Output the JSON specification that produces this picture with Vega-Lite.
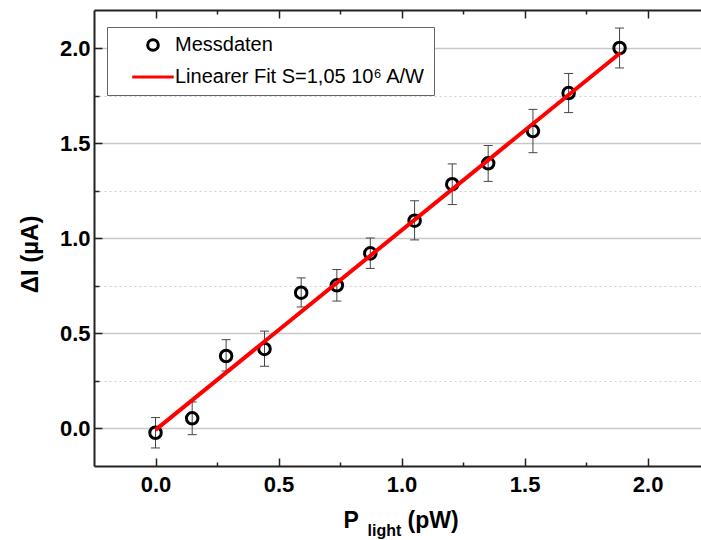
{
  "$schema": "https://vega.github.io/schema/vega-lite/v6.json",
  "width": 607,
  "height": 456,
  "autosize": "none",
  "padding": {"left": 94, "top": 10, "right": 0, "bottom": 74},
  "background": "white",
  "config": {
    "view": {"stroke": null},
    "axis": {
      "labelFont": "Liberation Sans",
      "labelFontWeight": "bold",
      "labelFontSize": 22,
      "labelColor": "#000000",
      "titleFont": "Liberation Sans",
      "titleFontWeight": "bold",
      "titleColor": "#000000",
      "tickColor": "#222222",
      "tickWidth": 1.5,
      "domainColor": "#222222",
      "domainWidth": 2
    },
    "legend": {
      "orient": "none", "legendX": 13, "legendY": 17,
      "title": null,
      "strokeColor": "#666666", "fillColor": "white", "padding": 8,
      "labelFont": "Liberation Sans", "labelFontSize": 20, "labelColor": "#000000",
      "labelLimit": 400,
      "symbolSize": 113, "symbolStrokeWidth": 3, "rowPadding": 10,
      "labelOffset": 12, "symbolOffset": 28
    }
  },
  "datasets": {
    "meas": [
      {"P": 0.0, "dI": -0.025, "lo": -0.105, "hi": 0.055},
      {"P": 0.149, "dI": 0.051, "lo": -0.035, "hi": 0.137},
      {"P": 0.287, "dI": 0.379, "lo": 0.3, "hi": 0.465},
      {"P": 0.443, "dI": 0.416, "lo": 0.325, "hi": 0.51},
      {"P": 0.592, "dI": 0.712, "lo": 0.637, "hi": 0.79},
      {"P": 0.737, "dI": 0.751, "lo": 0.668, "hi": 0.834},
      {"P": 0.873, "dI": 0.919, "lo": 0.84, "hi": 1.0},
      {"P": 1.053, "dI": 1.091, "lo": 0.99, "hi": 1.196},
      {"P": 1.206, "dI": 1.283, "lo": 1.176, "hi": 1.39},
      {"P": 1.352, "dI": 1.393, "lo": 1.298, "hi": 1.487},
      {"P": 1.534, "dI": 1.563, "lo": 1.449, "hi": 1.677},
      {"P": 1.679, "dI": 1.763, "lo": 1.66, "hi": 1.866},
      {"P": 1.886, "dI": 2.0, "lo": 1.895, "hi": 2.105}
    ],
    "fit": [
      {"P": 0.0, "dI": -0.01},
      {"P": 1.89, "dI": 1.975}
    ]
  },
  "resolve": {"axis": {"x": "independent", "y": "independent"}},
  "layer": [
    {
      "data": {"name": "meas"},
      "mark": {"type": "rule", "color": "#444444", "strokeWidth": 1},
      "encoding": {
        "x": {
          "field": "P", "type": "quantitative",
          "scale": {"domain": [-0.25, 2.217], "nice": false, "zero": false},
          "axis": {
            "orient": "bottom", "values": [0, 0.5, 1, 1.5, 2], "format": ".1f",
            "tickSize": -8, "labelPadding": 16, "grid": false,
            "title": "P", "titleX": 249, "titleY": 61, "titleAlign": "left",
            "titleBaseline": "alphabetic", "titleFontSize": 23
          }
        },
        "y": {
          "field": "lo", "type": "quantitative",
          "scale": {"domain": [-0.2, 2.2], "nice": false, "zero": false},
          "axis": {
            "orient": "left", "values": [0, 0.5, 1, 1.5, 2], "format": ".1f",
            "tickSize": -8, "labelPadding": 12, "grid": true,
            "gridColor": "#c8c8c8", "gridWidth": 1.5,
            "title": "ΔI (µA)", "titleX": -64, "titleY": 244, "titleAngle": -90,
            "titleAlign": "center", "titleBaseline": "middle", "titleFontSize": 24
          }
        },
        "y2": {"field": "hi"}
      }
    },
    {
      "data": {"name": "meas"},
      "mark": {"type": "tick", "orient": "horizontal", "color": "#444444", "size": 9, "thickness": 1, "opacity": 1},
      "encoding": {
        "x": {
          "field": "P", "type": "quantitative",
          "axis": {
            "orient": "bottom", "values": [0.25, 0.75, 1.25, 1.75],
            "tickSize": -4, "labels": false, "domain": false, "grid": false,
            "title": "(pW)", "titleX": 313, "titleY": 61, "titleAlign": "left",
            "titleBaseline": "alphabetic", "titleFontSize": 23
          }
        },
        "y": {
          "field": "lo", "type": "quantitative",
          "axis": {
            "orient": "left", "values": [0.25, 0.75, 1.25, 1.75],
            "tickSize": -5, "labels": false, "domain": false, "grid": true,
            "gridColor": "#d0d0d0", "gridDash": [2, 3], "gridWidth": 1, "title": null
          }
        }
      }
    },
    {
      "data": {"name": "meas"},
      "mark": {"type": "tick", "orient": "horizontal", "color": "#444444", "size": 9, "thickness": 1, "opacity": 1},
      "encoding": {
        "x": {
          "field": "P", "type": "quantitative",
          "axis": {
            "orient": "top", "values": [0, 0.5, 1, 1.5, 2],
            "tickSize": -8, "labels": false, "domain": true, "grid": false,
            "title": "light", "titleX": 273, "titleY": 525, "titleAlign": "left",
            "titleBaseline": "alphabetic", "titleFontSize": 16
          }
        },
        "y": {"field": "hi", "type": "quantitative", "axis": null}
      }
    },
    {
      "data": {"name": "meas"},
      "mark": {"type": "point", "filled": false, "strokeWidth": 3, "size": 133, "opacity": 1},
      "encoding": {
        "x": {
          "field": "P", "type": "quantitative",
          "axis": {
            "orient": "top", "values": [0.25, 0.75, 1.25, 1.75],
            "tickSize": -4, "labels": false, "domain": false, "grid": false, "title": null
          }
        },
        "y": {"field": "dI", "type": "quantitative", "axis": null},
        "color": {
          "datum": "Messdaten",
          "scale": {
            "domain": ["Messdaten", "Linearer Fit S=1,05 10⁶ A/W"],
            "range": ["#000000", "#ff0000"]
          }
        },
        "shape": {
          "datum": "Messdaten",
          "scale": {
            "domain": ["Messdaten", "Linearer Fit S=1,05 10⁶ A/W"],
            "range": ["circle", "M-3.9,0H3.9"]
          }
        }
      }
    },
    {
      "data": {"name": "fit"},
      "mark": {"type": "line", "strokeWidth": 4},
      "encoding": {
        "x": {"field": "P", "type": "quantitative", "axis": null},
        "y": {"field": "dI", "type": "quantitative", "axis": null},
        "color": {"datum": "Linearer Fit S=1,05 10⁶ A/W"}
      }
    }
  ]
}
